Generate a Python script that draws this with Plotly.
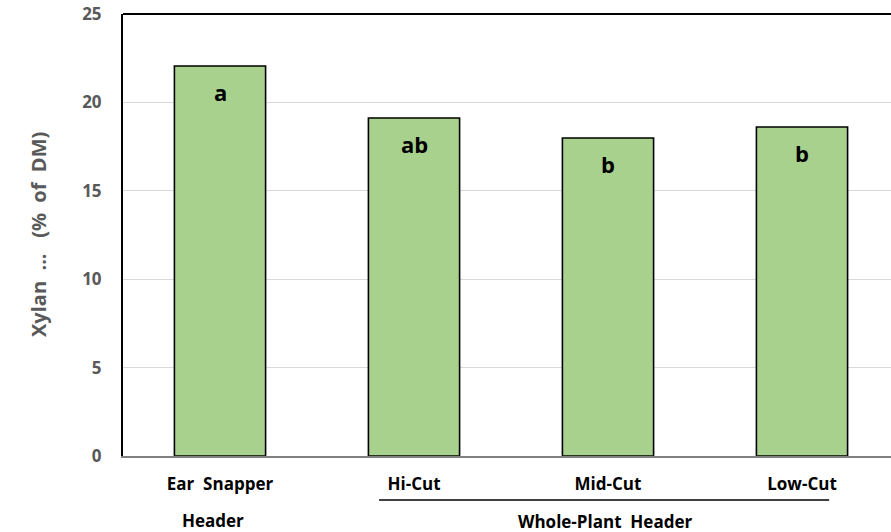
import plotly.graph_objects as go

# Xylan content by harvest method
categories = ["Ear Snapper", "Hi-Cut", "Mid-Cut", "Low-Cut"]
xylan = [22.06, 19.12, 17.99, 18.61]
letters = ["a", "ab", "b", "b"]
y_ticks = [0, 5, 10, 15, 20, 25]

W, H = 891, 532
ML, MT, MB = 123, 14, 76
FONT = "Open Sans"
STEP = 194  # pixel spacing between category centres

fig = go.Figure()
fig.add_trace(go.Bar(
    x=categories,
    y=xylan,
    width=0.47,
    marker=dict(color="#a9d18e", line=dict(color="#000000", width=1.6)),
    hoverinfo="skip",
))

# significance letters inside the top of each bar
for cat, val, lab in zip(categories, xylan, letters):
    fig.add_annotation(
        x=cat, y=val, yshift=-26, text=f"<b>{lab}</b>", showarrow=False,
        font=dict(family=FONT, size=22, color="#000000"),
        xanchor="center", yanchor="middle",
    )

# group labels below the axis
fig.add_annotation(
    x=categories[0], y=0, yref="y", yshift=-64, xshift=-7, text="<b>Header</b>",
    showarrow=False, font=dict(family=FONT, size=17, color="#000000"),
    xanchor="center", yanchor="middle",
)
fig.add_annotation(
    x=(categories.index("Hi-Cut") + categories.index("Low-Cut")) / 2, y=0, yref="y",
    yshift=-65, xshift=-3, text="<b>Whole-Plant  Header</b>", showarrow=False,
    font=dict(family=FONT, size=17, color="#000000"), xanchor="center", yanchor="middle",
)
# bracket line under the whole-plant header treatments
fig.add_shape(
    type="line", xref="x", yref="paper",
    x0=categories.index("Hi-Cut") - 0.18, x1=categories.index("Low-Cut") + 0.14,
    y0=-44 / (H - MT - MB), y1=-44 / (H - MT - MB),
    line=dict(color="#000000", width=1.6),
)
# top frame line
fig.add_shape(type="line", xref="paper", yref="paper", x0=0, x1=1, y0=1, y1=1,
              line=dict(color="#000000", width=2))

# y axis title
fig.add_annotation(
    xref="paper", yref="paper", x=(38 - ML) / (W - ML), y=0.5,
    text="<b>Xylan  ...   (%  of  DM)</b>", textangle=-90, showarrow=False,
    font=dict(family=FONT, size=20, color="#595959"), xanchor="center", yanchor="middle",
)

fig.update_layout(
    width=W, height=H,
    margin=dict(l=ML, r=0, t=MT, b=MB),
    plot_bgcolor="#ffffff", paper_bgcolor="#ffffff",
    showlegend=False,
    xaxis=dict(
        type="category",
        range=[-0.5, -0.5 + (W - ML) / STEP],
        showgrid=False,
        showline=True, linecolor="#808080", linewidth=2,
        ticks="", tickfont=dict(family=FONT, size=17, color="#000000"),
        tickvals=categories,
        ticktext=[f"<b>{c.replace(' ', '  ')}</b>" for c in categories],
        ticklabelstandoff=12,
    ),
    yaxis=dict(
        range=[0, 25],
        tickvals=y_ticks,
        ticktext=[f"<b>{v}</b>" for v in y_ticks],
        tickfont=dict(family=FONT, size=17, color="#595959"),
        showgrid=True, gridcolor="#d9d9d9", gridwidth=1,
        showline=True, linecolor="#000000", linewidth=2,
        zeroline=False,
        ticks="", ticklabelstandoff=16,
    ),
)

fig.write_html("out.html")
